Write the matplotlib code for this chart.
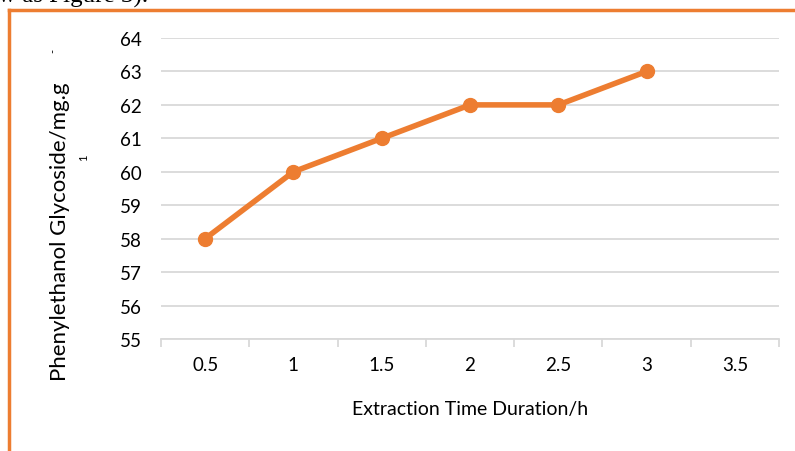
import matplotlib
matplotlib.use('Agg')
import matplotlib.pyplot as plt
from matplotlib.lines import Line2D

# data
hours = ['0.5', '1', '1.5', '2', '2.5', '3', '3.5']
glycoside = [58, 60, 61, 62, 62, 63]

plt.rcParams['font.family'] = ['Lato', 'DejaVu Sans']

fig = plt.figure(figsize=(7.95, 4.52), dpi=100)
ax = fig.add_axes([161/795, 1-340/452, 618/795, 301/452])

orange = '#ED7D31'
x = list(range(len(glycoside)))
ax.plot(x, glycoside, color=orange, lw=4, marker='o', ms=10, solid_capstyle='round', zorder=3)

ax.set_xlim(-0.5, len(hours) - 0.5)
ax.set_ylim(55, 64)
ax.set_yticks(range(55, 65))
ax.set_xticks(range(len(hours)))
ax.set_xticklabels(hours)
ax.set_xticks([i - 0.5 for i in range(len(hours) + 1)], minor=True)

ax.grid(axis='y', color='#d9d9d9', lw=1.3)
ax.set_axisbelow(True)
for s in ['top', 'right', 'left']:
    ax.spines[s].set_visible(False)
ax.spines['bottom'].set_color('#d9d9d9')
ax.spines['bottom'].set_linewidth(1.3)

ax.tick_params(axis='y', length=0, labelsize=13.5, pad=14)
ax.tick_params(axis='x', which='major', length=0, labelsize=13.5, pad=12)
ax.tick_params(axis='x', which='minor', length=6, width=1.3, color='#d9d9d9', direction='out')

fig.text(470/795, 1-410/452, 'Extraction Time Duration/h', ha='center', va='center', fontsize=14)
fig.text(60/795, 1-232/452, 'Phenylethanol Glycoside/mg.g', rotation=90, ha='center', va='center', fontsize=16)
fig.text(53/795, 1-51/452, '-', rotation=90, ha='center', va='center', fontsize=8)
fig.text(84/795, 1-158/452, '1', rotation=90, ha='center', va='center', fontsize=8)

# orange frame (left and top edges visible)
fig.add_artist(Line2D([9/795, 9/795], [0, 1-11/452], color=orange, lw=2.5, transform=fig.transFigure))
fig.add_artist(Line2D([9/795, 1], [1-11/452, 1-11/452], color=orange, lw=2.5, transform=fig.transFigure))

# cut-off text above the chart
fig.text(-0.003, 1-3/452, 'w as Figure 3).', family='Liberation Serif', fontsize=18, va='baseline', ha='left')

fig.savefig('out.png', dpi=100)
